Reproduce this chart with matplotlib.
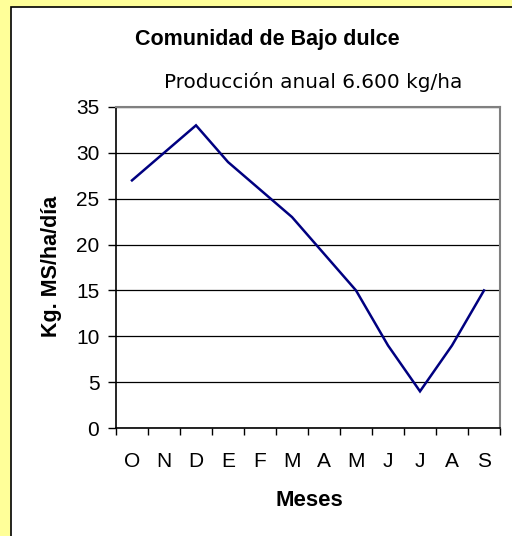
import matplotlib
matplotlib.use("Agg")
import matplotlib.pyplot as plt
from matplotlib.patches import Rectangle

months = ["O", "N", "D", "E", "F", "M", "A", "M", "J", "J", "A", "S"]
values = [27, 30, 33, 29, 26, 23, 19, 15, 9, 4, 9, 15]
yticks = [0, 5, 10, 15, 20, 25, 30, 35]

W, H = 512, 536
fig = plt.figure(figsize=(W/100, H/100), dpi=100)
fig.patch.set_facecolor("#FFFF99")
# inner white panel
panel = Rectangle((11/W, -0.01), 1.02, 1 - 7/H + 0.01, transform=fig.transFigure,
                  facecolor="white", edgecolor="black", linewidth=1.2, zorder=-10)
fig.patches.append(panel)

ax = fig.add_axes([116/W, 1 - 428/H, (500-116)/W, (428-107)/H])
x = list(range(len(months)))
ax.plot(x, values, color="#000080", linewidth=1.8, solid_joinstyle="miter")
ax.set_xlim(-0.5, len(months) - 0.5)
ax.set_ylim(0, 35)
ax.set_yticks(yticks)
ax.set_yticklabels([str(v) for v in yticks], fontsize=15, family="Liberation Sans")
ax.set_xticks(x)
ax.set_xticklabels(months, fontsize=15, family="Liberation Sans")
ax.tick_params(axis="x", length=0, pad=17)
ax.set_xticks([i - 0.5 for i in range(len(months) + 1)], minor=True)
ax.tick_params(axis="x", which="minor", length=5, direction="out", width=1)
ax.tick_params(axis="y", length=6, direction="out", width=1, pad=6)
ax.yaxis.grid(True, color="black", linewidth=0.9)
ax.set_axisbelow(True)
for s in ["top", "right"]:
    ax.spines[s].set_color("#808080")
    ax.spines[s].set_linewidth(1.5)
ax.spines["left"].set_color("black")
ax.spines["bottom"].set_color("black")
ax.spines["left"].set_linewidth(1.2)
ax.spines["bottom"].set_linewidth(1.2)

fig.text(267/W, 1 - 45/H, "Comunidad de Bajo dulce", ha="center", va="baseline",
         fontsize=15.5, fontweight="bold", family="Liberation Sans")
fig.text(313/W, 1 - 88/H, "Producción anual 6.600 kg/ha", ha="center", va="baseline",
         fontsize=14.4, family="DejaVu Sans")
fig.text(51/W, 1 - 266/H, "Kg. MS/ha/día", ha="center", va="center", rotation=90,
         fontsize=15.5, fontweight="bold", family="Liberation Sans")
fig.text(309/W, 1 - 506/H, "Meses", ha="center", va="baseline",
         fontsize=16, fontweight="bold", family="Liberation Sans")

fig.savefig("out.png", dpi=100)
